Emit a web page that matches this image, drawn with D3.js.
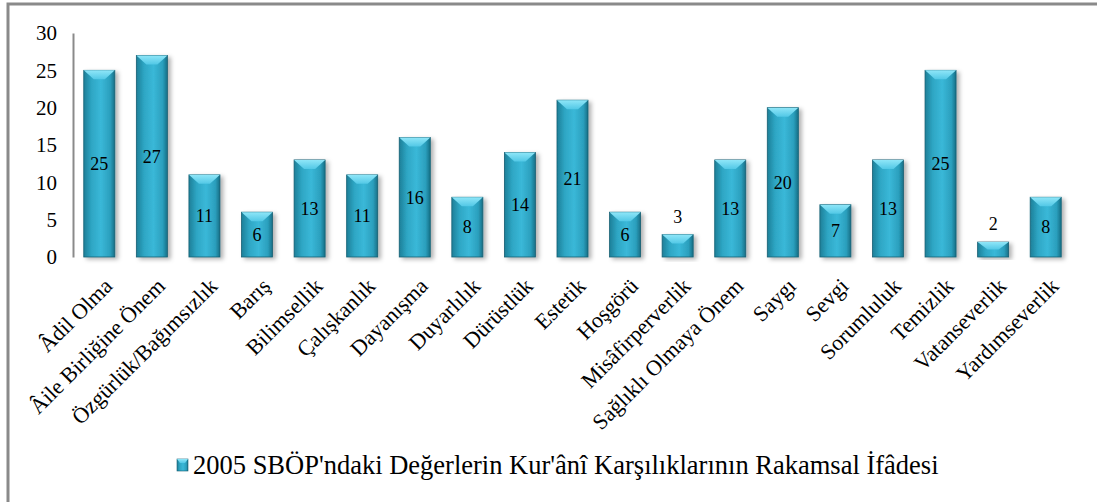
<!DOCTYPE html>
<html>
<head>
<meta charset="utf-8">
<script src="https://cdn.jsdelivr.net/npm/d3@7"></script>
<style>
  body { margin: 0; background: #fff; }
  svg, svg text { font-family: "Liberation Serif", "Times New Roman", serif; fill: #000; }
</style>
</head>
<body>
<div id="chart"></div>
<script>
var categories = [
  "Âdil Olma", "Âile Birliğine Önem", "Özgürlük/Bağımsızlık", "Barış", "Bilimsellik",
  "Çalışkanlık", "Dayanışma", "Duyarlılık", "Dürüstlük", "Estetik", "Hoşgörü",
  "Misâfirperverlik", "Sağlıklı Olmaya Önem", "Saygı", "Sevgi", "Sorumluluk",
  "Temizlik", "Vatanseverlik", "Yardımseverlik"
];
var values = [25, 27, 11, 6, 13, 11, 16, 8, 14, 21, 6, 3, 13, 20, 7, 13, 25, 2, 8];
var yTicks = [0, 5, 10, 15, 20, 25, 30];
var seriesName = "2005 SBÖP'ndaki Değerlerin Kur'ânî Karşılıklarının Rakamsal İfâdesi";

var width = 1097, height = 502;
var svg = d3.select('#chart').append('svg')
    .attr('width', width)
    .attr('height', height);

// outer frame (right and bottom edges fall outside the picture)
svg.append('rect')
    .attr('x', 8).attr('y', 4)
    .attr('width', 1110).attr('height', 520)
    .attr('fill', '#fff')
    .attr('stroke', '#8a8a8a')
    .attr('stroke-width', 3);

var defs = svg.append('defs');
var grad = defs.append('linearGradient').attr('id', 'barFill')
    .attr('x1', '0%').attr('x2', '100%').attr('y1', '0%').attr('y2', '0%');
grad.append('stop').attr('offset', '0%').attr('stop-color', '#1d7f98');
grad.append('stop').attr('offset', '25%').attr('stop-color', '#2ea6c4');
grad.append('stop').attr('offset', '55%').attr('stop-color', '#3ab8d8');
grad.append('stop').attr('offset', '85%').attr('stop-color', '#2b9fbd');
grad.append('stop').attr('offset', '100%').attr('stop-color', '#176f86');

var capGrad = defs.append('linearGradient').attr('id', 'capFill')
    .attr('x1', '0%').attr('x2', '0%').attr('y1', '0%').attr('y2', '100%');
capGrad.append('stop').attr('offset', '0%').attr('stop-color', '#8fe6f8');
capGrad.append('stop').attr('offset', '100%').attr('stop-color', '#52c8e6');

var shadow = defs.append('filter').attr('id', 'shadow')
    .attr('x', '-20%').attr('y', '-10%').attr('width', '160%').attr('height', '130%');
shadow.append('feDropShadow')
    .attr('dx', 3).attr('dy', 2).attr('stdDeviation', 2)
    .attr('flood-color', '#000').attr('flood-opacity', 0.3);

// plot area (named so it does not clash with window.top)
var plotLeft = 73, plotRight = 1072, plotTop = 33, plotBottom = 257;

var x = d3.scaleBand()
    .domain(categories)
    .range([plotLeft, plotRight])
    .paddingInner(0.41)
    .paddingOuter(0.205);

var y = d3.scaleLinear()
    .domain([0, 30])
    .range([plotBottom, plotTop]);

// y axis
var yAxis = svg.append('g')
    .attr('transform', 'translate(' + plotLeft + ',0)')
    .call(d3.axisLeft(y).tickValues(yTicks).tickSize(0).tickPadding(16));
yAxis.attr('font-family', null);
yAxis.select('.domain').attr('stroke', '#8a8a8a').attr('stroke-width', 2);
yAxis.selectAll('text')
    .style('font-family', '"Liberation Serif", serif')
    .style('font-size', '21px')
    .attr('fill', '#000');

// bars
var bars = svg.append('g').selectAll('g.bar')
    .data(values)
    .enter().append('g')
    .attr('class', 'bar');

bars.append('rect')
    .attr('x', function(d, i) { return x(categories[i]); })
    .attr('y', function(d) { return y(d); })
    .attr('width', x.bandwidth())
    .attr('height', function(d) { return y(0) - y(d); })
    .attr('fill', 'url(#barFill)')
    .attr('stroke', '#145f73')
    .attr('stroke-width', 0.8)
    .attr('filter', 'url(#shadow)');

// bevelled top of each bar
bars.append('path')
    .attr('d', function(d, i) {
      var x0 = x(categories[i]), x1 = x0 + x.bandwidth(), y0 = y(d);
      var h = Math.min(9, (y(0) - y(d)) / 2);
      var inset = 10;
      return 'M' + x0 + ',' + y0 + 'L' + x1 + ',' + y0 +
             'L' + (x1 - inset) + ',' + (y0 + h) + 'L' + (x0 + inset) + ',' + (y0 + h) + 'Z';
    })
    .attr('fill', 'url(#capFill)');

// x axis line
svg.append('line')
    .attr('x1', plotLeft).attr('x2', plotRight)
    .attr('y1', plotBottom + 1).attr('y2', plotBottom + 1)
    .attr('stroke', '#8a8a8a')
    .attr('stroke-width', 2)
    .attr('filter', 'url(#shadow)');

// value labels
bars.append('text')
    .attr('x', function(d, i) { return x(categories[i]) + x.bandwidth() / 2; })
    .attr('y', function(d) {
      if (d < 4) return y(d) - 18;
      return (y(d) + y(0)) / 2;
    })
    .attr('dy', '0.35em')
    .attr('text-anchor', 'middle')
    .style('font-size', '18px')
    .text(function(d) { return d; });

// category labels, rotated
svg.append('g').selectAll('text')
    .data(categories)
    .enter().append('text')
    .attr('text-anchor', 'end')
    .style('font-size', '22px')
    .attr('transform', function(d) {
      var cx = x(d) + x.bandwidth() / 2 + 9;
      return 'translate(' + cx + ',' + (plotBottom + 25) + ') rotate(-45)';
    })
    .attr('dy', '0.35em')
    .text(function(d) { return d; });

// legend
var legend = svg.append('g').attr('transform', 'translate(177,459)');
legend.append('rect')
    .attr('width', 11).attr('height', 12)
    .attr('fill', 'url(#barFill)')
    .attr('stroke', '#145f73').attr('stroke-width', 0.6);
legend.append('path')
    .attr('d', 'M0,0L11,0L8,4L3,4Z')
    .attr('fill', 'url(#capFill)');
legend.append('text')
    .attr('x', 16).attr('y', 6)
    .attr('dy', '0.35em')
    .style('font-size', '26.5px')
    .text(seriesName);
</script>
</body>
</html>
